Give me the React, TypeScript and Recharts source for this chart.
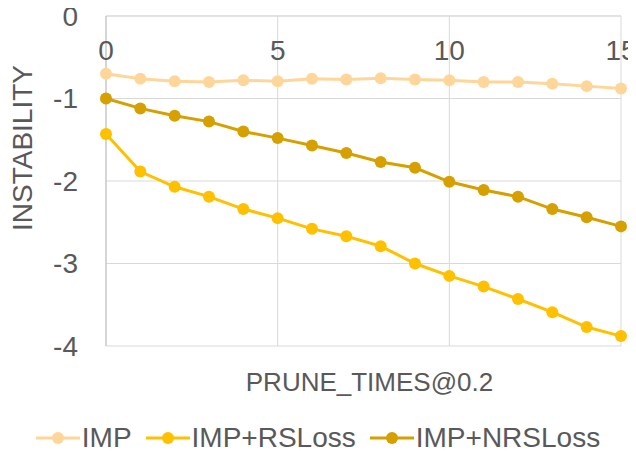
import React from 'react';
import { LineChart, Line, XAxis, YAxis, CartesianGrid, Legend, Customized } from 'recharts';

const pruneTimes = [0, 1, 2, 3, 4, 5, 6, 7, 8, 9, 10, 11, 12, 13, 14, 15];
const impValues = [-0.7, -0.76, -0.79, -0.8, -0.78, -0.79, -0.76, -0.77, -0.755, -0.77, -0.78, -0.8, -0.8, -0.82, -0.85, -0.88];
const rsLossValues = [-1.43, -1.885, -2.07, -2.19, -2.34, -2.45, -2.58, -2.67, -2.79, -3.0, -3.15, -3.28, -3.43, -3.59, -3.77, -3.88];
const nrsLossValues = [-1.0, -1.12, -1.21, -1.28, -1.4, -1.48, -1.57, -1.66, -1.77, -1.84, -2.01, -2.11, -2.19, -2.34, -2.44, -2.55];
const xTicks = [0, 5, 10, 15];
const yTicks = [0, -1, -2, -3, -4];

const SERIES = [
  { key: 'imp', name: 'IMP', color: '#FFD699' },
  { key: 'rs', name: 'IMP+RSLoss', color: '#FFC000' },
  { key: 'nrs', name: 'IMP+NRSLoss', color: '#D5A000' },
];

const data = pruneTimes.map((x, i) => ({
  x,
  imp: impValues[i],
  rs: rsLossValues[i],
  nrs: nrsLossValues[i],
}));

const FONT = '"Liberation Sans", Arial, sans-serif';
const TEXT = '#595959';
const GRID = '#D9D9D9';

// chart is pulled over the body margin, so svg coords == page coords
const W = 636;
const H = 456;
const PLOT_LEFT = 106;
const PLOT_TOP = 16;
const PLOT_RIGHT = 621;

// x tick labels sit just under the top axis line (Excel style)
const XTick = (props: any) => {
  const { x, payload } = props;
  return (
    <text x={x} y={PLOT_TOP + 34} textAnchor="middle" dominantBaseline="central" fontSize={28} fill={TEXT} fontFamily={FONT}>
      {payload.value}
    </text>
  );
};

const Titles = () => (
  <g>
    <text x={(PLOT_LEFT + PLOT_RIGHT) / 2 + 6} y={382} textAnchor="middle" dominantBaseline="central" fontSize={26} fill={TEXT} fontFamily={FONT}>
      PRUNE_TIMES@0.2
    </text>
    <text x={22} y={148} transform="rotate(-90 22 148)" textAnchor="middle" dominantBaseline="central" fontSize={28} fill={TEXT} fontFamily={FONT}>
      INSTABILITY
    </text>
  </g>
);

const renderLegend = () => (
  <div style={{ display: 'flex', justifyContent: 'center', alignItems: 'center', height: 36, fontFamily: FONT, fontSize: 28, color: TEXT }}>
    {SERIES.map((s, i) => (
      <div key={s.key} style={{ display: 'flex', alignItems: 'center', marginLeft: i === 0 ? 0 : 14 }}>
        <svg width={44} height={14}>
          <line x1={0} y1={7} x2={44} y2={7} stroke={s.color} strokeWidth={3} />
          <circle cx={22} cy={7} r={6} fill={s.color} />
        </svg>
        <span style={{ marginLeft: 2 }}>{s.name}</span>
      </div>
    ))}
  </div>
);

export default function App() {
  return (
    <div style={{ margin: -8 }}>
      <LineChart width={W} height={H} data={data} margin={{ top: 0, right: W - PLOT_RIGHT, left: 0, bottom: 74 }}>
        <CartesianGrid stroke={GRID} strokeWidth={1} />
        <XAxis
          dataKey="x"
          type="number"
          domain={[0, 15]}
          ticks={xTicks}
          orientation="top"
          height={PLOT_TOP}
          axisLine={{ stroke: GRID, strokeWidth: 1 }}
          tickLine={false}
          tick={<XTick />}
          interval={0}
        />
        <YAxis
          type="number"
          domain={[-4, 0]}
          ticks={yTicks}
          width={PLOT_LEFT}
          axisLine={{ stroke: '#BFBFBF', strokeWidth: 1 }}
          tickLine={false}
          tickMargin={22}
          tick={{ fontSize: 28, fill: TEXT, fontFamily: FONT }}
          interval={0}
        />
        <Legend verticalAlign="bottom" content={renderLegend} wrapperStyle={{ bottom: 0, left: 0, width: W }} />
        {SERIES.map(s => (
          <Line
            key={s.key}
            dataKey={s.key}
            name={s.name}
            stroke={s.color}
            strokeWidth={3}
            dot={{ r: 6, fill: s.color, stroke: 'none' }}
            activeDot={false}
            isAnimationActive={false}
          />
        ))}
        <Customized component={Titles} />
      </LineChart>
    </div>
  );
}
